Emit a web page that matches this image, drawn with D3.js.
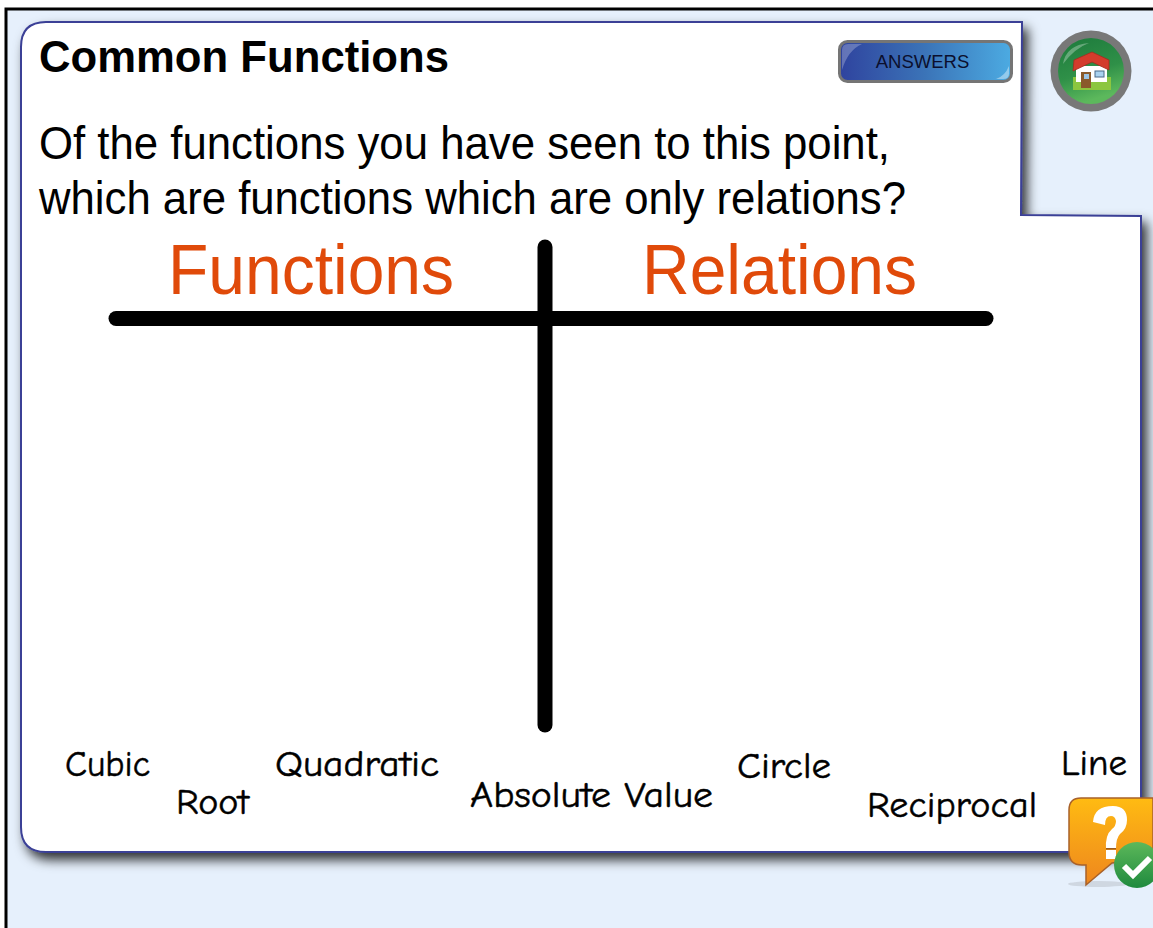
<!DOCTYPE html>
<html>
<head>
<meta charset="utf-8">
<script src="https://cdn.jsdelivr.net/npm/d3@7"></script>
<style>
  html, body { margin: 0; padding: 0; background: #fff; overflow: hidden; }
  svg { display: block; }
</style>
</head>
<body>
<div id="chart"></div>
<script>
var titleText = "Common Functions";
var buttonText = "ANSWERS";
var questionLines = ["Of the functions you have seen to this point,", "which are functions which are only relations?"];
var columnHeads = ["Functions", "Relations"];
var cardLabels = ["Cubic", "Root", "Quadratic", "Absolute Value", "Circle", "Reciprocal", "Line"];

var W = 1153, H = 928;
var sansFont = "'Liberation Sans', Arial, sans-serif";
var handFont = "'Comic Sans MS', 'Comic Neue', Lato, sans-serif";
var svg = d3.select("#chart").append("svg").attr("width", W).attr("height", H);
var defs = svg.append("defs");

function grad(id, x2, y2, stops) {
  var g = defs.append("linearGradient").attr("id", id)
    .attr("x1", 0).attr("y1", 0).attr("x2", x2).attr("y2", y2);
  stops.forEach(function (s) {
    g.append("stop").attr("offset", s[0]).attr("stop-color", s[1]);
  });
}
grad("btn", 1, 0, [[0, "#2f439e"], [0.5, "#3b74b8"], [1, "#4cabe2"]]);
grad("homeGreen", 0.3, 1, [[0, "#1d7a3c"], [0.6, "#2f9048"], [1, "#5cb85c"]]);
grad("bubble", 0, 1, [[0, "#ffbb12"], [1, "#ee861e"]]);
grad("check", 0, 1, [[0, "#5cb85a"], [1, "#1f8a3e"]]);

var shadow = defs.append("filter").attr("id", "shadow")
  .attr("x", "-5%").attr("y", "-5%").attr("width", "112%").attr("height", "112%");
shadow.append("feDropShadow").attr("dx", 5).attr("dy", 7).attr("stdDeviation", 6)
  .attr("flood-color", "#000").attr("flood-opacity", 0.8);

// page frame
svg.append("rect").attr("x", 6).attr("y", 9).attr("width", W).attr("height", H)
  .attr("fill", "#e6f0fc").attr("stroke", "#000").attr("stroke-width", 3);

// notched white panel
var panel = d3.path();
panel.moveTo(46, 22);
panel.lineTo(1022, 22);
panel.lineTo(1021, 215);
panel.lineTo(1141, 216);
panel.lineTo(1141, 852);
panel.lineTo(46, 852);
panel.quadraticCurveTo(21, 852, 21, 827);
panel.lineTo(21, 47);
panel.quadraticCurveTo(21, 22, 46, 22);
panel.closePath();
svg.append("path").attr("d", panel.toString())
  .attr("fill", "#fff").attr("stroke", "#3a3f96").attr("stroke-width", 2)
  .attr("filter", "url(#shadow)");

svg.append("text").attr("x", 39).attr("y", 72)
  .attr("font-family", sansFont)
  .attr("font-weight", "bold").attr("font-size", 44)
  .attr("textLength", 410).attr("lengthAdjust", "spacingAndGlyphs")
  .attr("fill", "#000").text(titleText);

var questionLen = [851, 867];
svg.selectAll("text.question").data(questionLines).enter().append("text")
  .attr("class", "question")
  .attr("x", 39)
  .attr("y", function (d, i) { return 159 + i * 55; })
  .attr("textLength", function (d, i) { return questionLen[i]; })
  .attr("lengthAdjust", "spacingAndGlyphs")
  .attr("font-family", sansFont)
  .attr("font-size", 46)
  .attr("fill", "#000")
  .text(function (d) { return d; });

// answers button
svg.append("rect").attr("x", 839.5).attr("y", 41.5).attr("width", 172).attr("height", 40).attr("rx", 8)
  .attr("fill", "url(#btn)").attr("stroke", "#757575").attr("stroke-width", 3);
svg.append("path").attr("d", "M842 70 L842 50 Q842 44 848 44 L862 44 Q848 50 842 70 Z")
  .attr("fill", "#fff").attr("opacity", 0.25);
svg.append("path").attr("d", "M1009 66 L1009 74 Q1009 79 1003 79 L996 79 Q1005 76 1009 66 Z")
  .attr("fill", "#fff").attr("opacity", 0.4);
svg.append("text").attr("x", 922.5).attr("y", 68).attr("text-anchor", "middle")
  .attr("font-family", sansFont).attr("font-size", 18.5)
  .attr("fill", "#0b0f2e").text(buttonText);

// home button
var home = svg.append("g");
home.append("circle").attr("cx", 1091).attr("cy", 71).attr("r", 40.5).attr("fill", "#787878");
home.append("circle").attr("cx", 1091).attr("cy", 71).attr("r", 33).attr("fill", "url(#homeGreen)");
home.append("path").attr("d", "M1063 64 Q1066 45 1089 43 Q1075 48 1063 64 Z").attr("fill", "#fff").attr("opacity", 0.3);
home.append("rect").attr("x", 1073).attr("y", 77).attr("width", 38).attr("height", 13).attr("fill", "#8cc63f");
home.append("rect").attr("x", 1076).attr("y", 66).attr("width", 31).attr("height", 16).attr("fill", "#fff");
home.append("path").attr("d", "M1073 71 L1074 60 L1092 52 L1109 60 L1109 70 L1092 62 Z")
  .attr("fill", "#d33c2c").attr("stroke", "#a52a1e").attr("stroke-width", 0.8);
home.append("rect").attr("x", 1081).attr("y", 72).attr("width", 10).attr("height", 16).attr("fill", "#8a5a2b");
home.append("rect").attr("x", 1084).attr("y", 74).attr("width", 5).attr("height", 5).attr("fill", "#9cc4e4");
home.append("rect").attr("x", 1095).attr("y", 71).attr("width", 9).attr("height", 6)
  .attr("fill", "#a9d2f0").attr("stroke", "#4a6a8a").attr("stroke-width", 1);

// column heads
var headX = [168, 642];
var headLen = [286, 275];
svg.selectAll("text.head").data(columnHeads).enter().append("text")
  .attr("class", "head")
  .attr("x", function (d, i) { return headX[i]; })
  .attr("y", 294)
  .attr("textLength", function (d, i) { return headLen[i]; })
  .attr("lengthAdjust", "spacingAndGlyphs")
  .attr("font-family", sansFont)
  .attr("font-size", 70)
  .attr("fill", "#e04a0a")
  .text(function (d) { return d; });

// T chart rules
svg.append("line").attr("x1", 116).attr("y1", 318.5).attr("x2", 986).attr("y2", 318.5)
  .attr("stroke", "#000").attr("stroke-width", 15).attr("stroke-linecap", "round");
svg.append("line").attr("x1", 545).attr("y1", 247).attr("x2", 545).attr("y2", 725)
  .attr("stroke", "#000").attr("stroke-width", 15).attr("stroke-linecap", "round");

// draggable cards
var cardX = [65, 176, 275, 470, 737, 867, 1061];
var cardY = [776, 814, 776, 807, 778, 817, 775];
var cardLen = [85, 73, 164, 243, 94, 170, 66];
svg.selectAll("text.card").data(cardLabels).enter().append("text")
  .attr("class", "card")
  .attr("x", function (d, i) { return cardX[i]; })
  .attr("y", function (d, i) { return cardY[i]; })
  .attr("textLength", function (d, i) { return cardLen[i]; })
  .attr("lengthAdjust", "spacingAndGlyphs")
  .attr("font-family", handFont)
  .attr("font-size", 37)
  .attr("fill", "#000")
  .attr("stroke", "#000")
  .attr("stroke-width", 0.5)
  .text(function (d) { return d; });

// help icon
var help = svg.append("g");
help.append("ellipse").attr("cx", 1098).attr("cy", 884).attr("rx", 30).attr("ry", 3).attr("fill", "#c4ccd6").attr("opacity", 0.7);
help.append("path")
  .attr("d", "M1081 798 L1153 798 L1153 858 L1112 863 L1086 885 L1086 865 L1082 865 Q1069 865 1069 852 L1069 810 Q1069 798 1081 798 Z")
  .attr("fill", "url(#bubble)").attr("stroke", "#a8612a").attr("stroke-width", 1.5);
help.append("path")
  .attr("d", "M1093 822 Q1094 806 1113 806 Q1127 806 1127 820 Q1127 829 1120 834 Q1116 838 1116 849 L1106 849 Q1105 835 1112 829 Q1116 826 1116 821 Q1115 816 1111 816 Q1105 816 1105 825 Z")
  .attr("fill", "#fff");
help.append("rect").attr("x", 1106).attr("y", 848).attr("width", 10).attr("height", 1.5).attr("fill", "#9a5a20");
help.append("rect").attr("x", 1106).attr("y", 850).attr("width", 10).attr("height", 9).attr("fill", "#fff");
help.append("circle").attr("cx", 1137).attr("cy", 865).attr("r", 23).attr("fill", "url(#check)");
help.append("path").attr("d", "M1124 866 L1133 875 L1150 858")
  .attr("fill", "none").attr("stroke", "#fff").attr("stroke-width", 6);
</script>
</body>
</html>
